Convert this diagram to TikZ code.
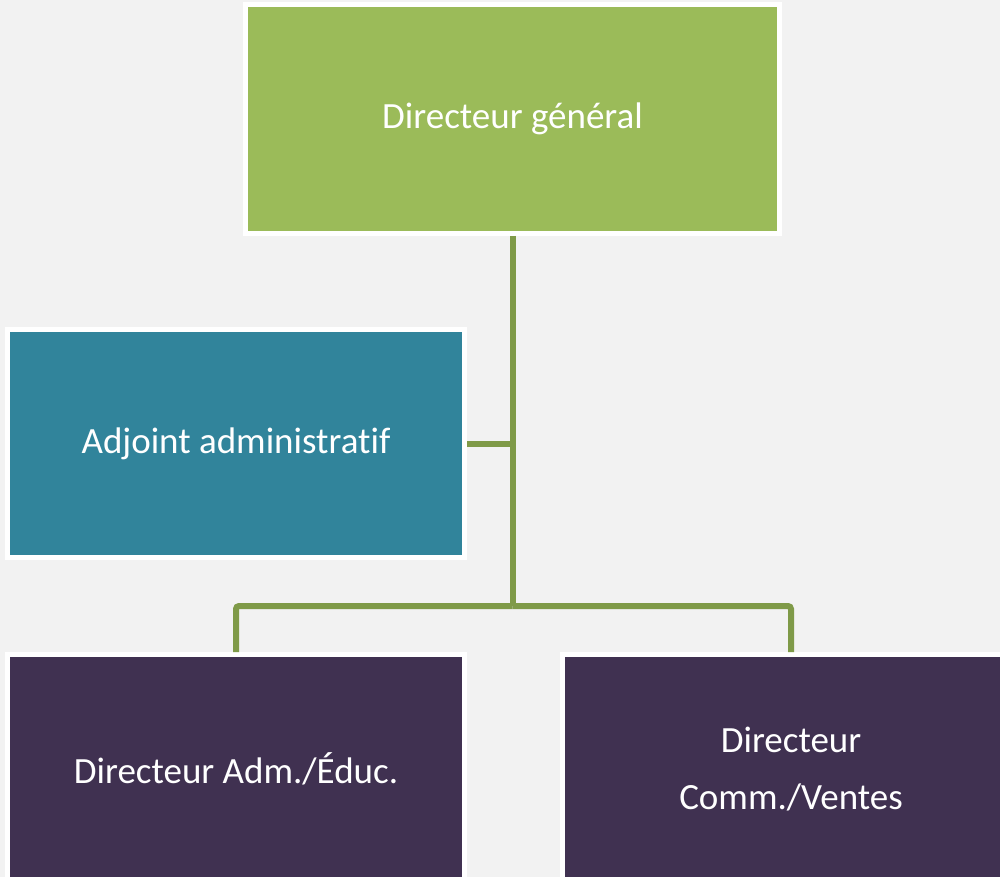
\documentclass[tikz,border=0pt]{standalone}
\usepackage{fontspec}
\setmainfont{Carlito}[Ligatures={NoCommon}]
\definecolor{bg}{HTML}{F2F2F2}
\definecolor{cgreen}{HTML}{9BBB59}
\definecolor{cteal}{HTML}{31849B}
\definecolor{cpurple}{HTML}{403151}
\definecolor{cline}{HTML}{7F9A48}
\begin{document}
\begin{tikzpicture}[x=1pt,y=-1pt,
  box/.style={draw=white,line width=5pt,inner sep=0pt,text=white,
    font=\fontsize{37}{57}\selectfont,align=center},
  conn/.style={draw=cline,line width=6pt}]
\useasboundingbox[fill=bg] (0,0) rectangle (1000,877);
\node[box,fill=cgreen,minimum width=534pt,minimum height=229pt] (top) at (512.5,119) {Directeur général};
\node[box,fill=cteal,minimum width=457pt,minimum height=228pt] (adj) at (236,443.5) {Adjoint administratif};
\node[box,fill=cpurple,minimum width=457pt,minimum height=229pt] (bl) at (236,769) {Directeur Adm./Éduc.};
\node[box,fill=cpurple,minimum width=457pt,minimum height=229pt] (br) at (791,769) {Directeur\\Comm./Ventes};
\coordinate (bus) at (top.south |- 0,606);
\draw[conn] (top.south) -- (bus);
\draw[conn] (adj.east) -- (adj.east -| top.south);
\draw[conn,rounded corners=3pt] (bus) -| (bl.north);
\draw[conn,rounded corners=3pt] (bus) -| (br.north);
\end{tikzpicture}
\end{document}
